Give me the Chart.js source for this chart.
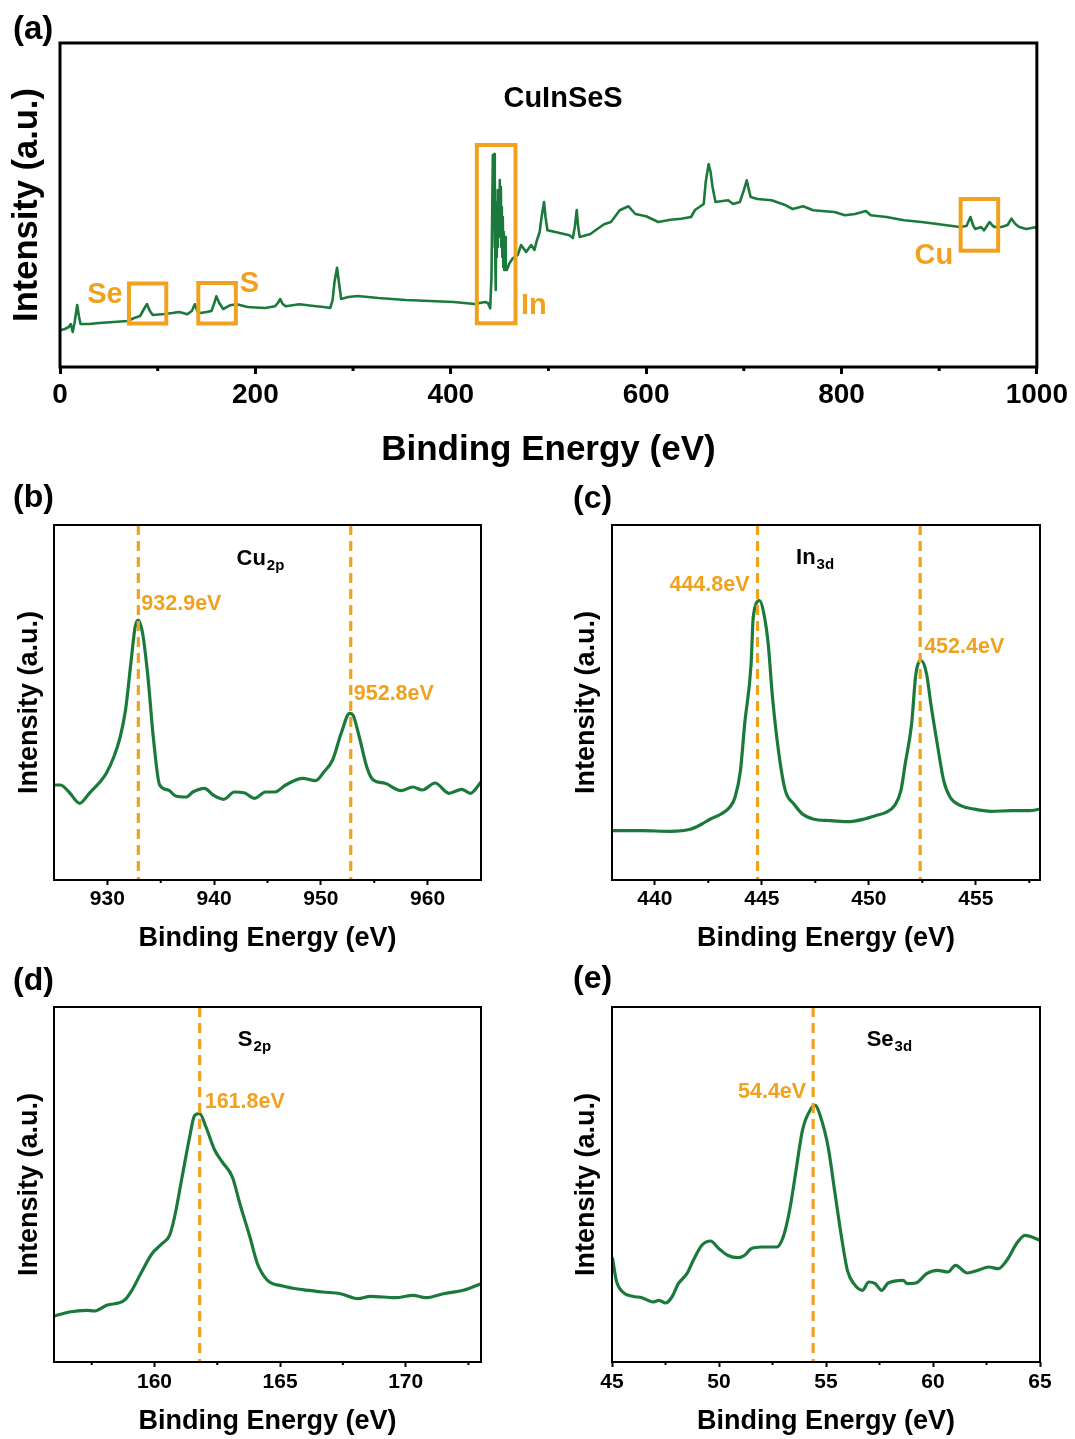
<!DOCTYPE html>
<html>
<head>
<meta charset="utf-8">
<script src="https://cdn.jsdelivr.net/npm/chart.js@4.4.1/dist/chart.umd.min.js"></script>
<style>
  body { margin: 0; background: #fff; width: 1075px; height: 1439px; position: relative; overflow: hidden; }
  canvas { position: absolute; }
</style>
</head>
<body>
<canvas id="pa" width="1075" height="470" style="left:0;top:0"></canvas>
<canvas id="pb" width="537" height="485" style="left:0;top:470px"></canvas>
<canvas id="pc" width="538" height="485" style="left:537px;top:470px"></canvas>
<canvas id="pd" width="537" height="484" style="left:0;top:955px"></canvas>
<canvas id="pe" width="538" height="484" style="left:537px;top:955px"></canvas>
<script>
// ---- data (intensity in arbitrary units) ----
const surveyE = [0, 5, 9, 11, 13, 15, 17.6, 19.5, 21, 30,
  40, 55, 69, 76, 82, 86, 89, 92, 95, 107,
  115, 121.5, 126, 130, 135, 138, 141, 144, 150, 155,
  158, 160, 163, 167, 174, 181, 192, 200, 210, 220,
  223, 225.5, 228, 231, 245, 260, 270, 276.6, 279, 281,
  283.6, 285.5, 287.8, 295, 304.7, 326, 354, 378.7, 403, 424.5,
  435, 438, 440.4, 441.7, 443.1, 443.6, 444.0, 444.5, 444.9, 445.3,
  445.7, 446.1, 446.5, 446.9, 447.3, 447.8, 448.2, 448.7, 449.2, 449.7,
  450.2, 450.7, 451.3, 451.8, 452.3, 452.8, 453.3, 453.8, 454.3, 454.7,
  455.2, 455.7, 456.3, 457.4, 460.1, 463.5, 468.6, 472, 477.2, 482.3,
  485.7, 488, 491, 493, 495.5, 497, 499, 507, 521.5, 525,
  527, 529, 530.5, 532, 543, 550, 557, 564, 573, 582,
  589, 600, 612.5, 625, 635.7, 646, 650, 659, 661, 664,
  666, 668, 671, 684, 689, 696, 700, 703, 705, 707,
  714, 728.5, 743, 750, 760.7, 771, 792.8, 803.5, 814, 825,
  830, 846, 864, 882, 900, 921, 928, 932, 935, 937,
  943, 946, 951.6, 955, 957, 964, 970, 974, 978, 982,
  989, 1000];
const surveyI = [36.7, 38, 40, 43, 35, 45, 62, 50, 43, 43,
  44, 45, 46, 49, 51, 58, 63, 56, 52, 53,
  54, 55, 54, 52.7, 56, 62.7, 55, 54, 55, 56,
  64, 70.7, 64, 58, 61.7, 62.7, 60, 59.5, 59, 60.7,
  64, 68, 63, 60.7, 62.7, 61, 60, 59, 66.7, 85,
  99.3, 85, 68, 70, 71, 69, 67, 66, 65, 63,
  65, 64, 58.7, 90, 212, 140, 205, 213, 120, 190,
  100, 77, 150, 110, 165, 120, 177, 130, 170, 140,
  187, 150, 180, 120, 160, 110, 150, 100, 135, 97,
  125, 130, 100, 97, 103.7, 108.7, 112, 122, 115, 122,
  117, 126, 135, 150, 165, 150, 136.7, 135, 131.7, 129,
  140, 157, 140, 130, 133, 138, 142.7, 145, 156.7, 160.7,
  153, 150.7, 145, 147.3, 148.3, 150, 157, 163, 185, 203,
  195, 180, 165, 166.7, 163, 165, 176.7, 186.7, 178, 170,
  168, 166.7, 161.7, 158, 160.7, 156.7, 155, 151.7, 153, 156,
  151.7, 150, 146.7, 145, 142.7, 140, 141, 150, 141, 138,
  140, 136.7, 145, 141, 140, 140, 142, 148.3, 143, 140,
  138, 140];

const cuE = [925.1, 925.6, 926.4, 927.4, 928.3, 929.3, 929.9, 930.6, 931.2, 931.7,
  932.2, 932.6, 932.9, 933.3, 933.8, 934.3, 934.9, 935.7, 936.4, 937.4,
  938, 939.1, 939.9, 940.9, 941.9, 942.8, 943.8, 944.8, 945.7, 946.7,
  948.3, 949.5, 950.3, 951.1, 951.9, 952.7, 953, 953.6, 954.3, 954.9,
  956, 957.5, 958.6, 959.5, 960.7, 962, 963.2, 964, 965];
const cuI = [95, 95, 88, 76.7, 86.7, 98, 106.7, 123, 143, 170,
  216.7, 253, 260, 246.7, 203, 143, 95, 90, 84, 83,
  88, 91.7, 85, 80.7, 88, 87.3, 81.7, 88, 88, 95,
  101.7, 99.3, 108.3, 120, 146.7, 166.7, 165, 143, 113, 100,
  96.7, 89.3, 93, 90, 97, 86.7, 90.7, 86.7, 98];

const inE = [438, 439.4, 440.7, 441.7, 442.2, 442.6, 443.1, 443.5, 443.75, 444,
  444.2, 444.5, 444.6, 444.9, 445.1, 445.3, 445.5, 445.8, 446.1, 446.5,
  446.9, 447.4, 448.2, 449, 449.8, 450.3, 450.8, 451.2, 451.5, 451.7,
  452, 452.2, 452.45, 452.7, 452.9, 453.2, 453.5, 453.8, 454.3, 454.9,
  455.7, 456.7, 457.5, 458];
const inI = [49.3, 49.3, 48.7, 51, 56, 61, 66, 72.7, 82.7, 109,
  156, 216, 262.7, 279.3, 266, 236, 182.7, 126, 89.3, 76,
  66, 61, 59.3, 58.3, 61, 64.3, 67.7, 74.3, 89.3, 116,
  156, 206, 219.3, 206, 176, 136, 99.3, 82.7, 74.3, 71,
  68.7, 69.3, 69.3, 71];

const sE = [156.03, 156.6, 157.3, 157.6, 158.1, 158.8, 159.1, 159.45, 159.9, 160.3,
  160.6, 160.8, 161.1, 161.4, 161.6, 161.8, 162.05, 162.4, 162.7, 163.1,
  163.4, 163.8, 164.1, 164.5, 165.1, 165.9, 166.7, 167.4, 168.1, 168.6,
  169.6, 170.3, 170.8, 171.5, 172.3, 173];
const sI = [46, 50, 51.7, 51, 56.7, 61.7, 71.7, 88.3, 108.3, 118.3,
  126.7, 145, 185, 225, 246.7, 248.3, 235, 211.7, 200, 185,
  158.3, 125, 98.3, 81.7, 76, 72.3, 70, 68.3, 63.3, 65.7,
  64.3, 66.7, 64.3, 68.3, 71.7, 78.3];

const seE = [45.03, 45.2, 45.5, 45.96, 46.4, 46.9, 47.2, 47.5, 47.8, 48.1,
  48.5, 48.8, 49.2, 49.6, 50, 50.4, 50.9, 51.2, 51.5, 52,
  52.7, 53, 53.3, 53.6, 53.9, 54.3, 54.5, 54.7, 55.1, 55.4,
  55.7, 56, 56.3, 56.7, 57, 57.3, 57.6, 57.9, 58.6, 58.8,
  59.2, 59.7, 60.2, 60.7, 61.05, 61.6, 62.1, 62.6, 63.05, 63.5,
  63.9, 64.3, 65];
const seI = [103.3, 81.7, 70, 65.7, 64.3, 60, 61.7, 59, 65, 78.3,
  88.3, 101.7, 116.7, 121, 113.3, 106.7, 104.3, 106.7, 113.3, 115,
  115, 125, 151.7, 191.7, 231.7, 253.3, 256.7, 248.3, 215, 171.7,
  128.3, 91.7, 78.3, 71.7, 80, 78.3, 71.7, 79, 81.7, 78.3,
  79, 88.3, 91.7, 90, 96.7, 89, 91.7, 95, 93.3, 103.3,
  118.3, 126.7, 121.7];

// peak positions marked with dashed lines
const cuPeaks = [932.9, 952.8];
const inPeaks = [444.8, 452.4];
const sPeaks = [161.8];
const sePeaks = [54.4];

// axis ticks
const surveyTicks = [0, 200, 400, 600, 800, 1000];
const surveyMinor = [100, 300, 500, 700, 900];
const cuTicks = [930, 940, 950, 960];
const cuMinor = [935, 945, 955];
const inTicks = [440, 445, 450, 455];
const inMinor = [442.5, 447.5, 452.5, 457.5];
const sTicks = [160, 165, 170];
const sMinor = [157.5, 162.5, 167.5, 172.5];
const seTicks = [45, 50, 55, 60, 65];
const seMinor = [47.5, 52.5, 57.5, 62.5];

// element regions boxed on the survey (energy range, intensity range)
const surveyBoxes = [
  { x0: 70.6, x1: 108.8, y0: 43.5, y1: 83.5 },
  { x0: 141.6, x1: 180, y0: 43.5, y1: 84 },
  { x0: 426.7, x1: 466.3, y0: 43.7, y1: 222 },
  { x0: 922, x1: 960.4, y0: 116.3, y1: 168 },
];

const GREEN = '#1b7a3b';
const ORANGE = '#f0a21e';
const FONT = '"Liberation Sans", Arial, Helvetica, sans-serif';
const bold = (size) => ({ family: FONT, size, weight: 'bold', lineHeight: 1 });

// frame, minor ticks, boxes, text annotations and panel letter
const decor = {
  id: 'decor',
  afterDatasetsDraw(chart, args, o) {
    const { ctx, chartArea: a } = chart;
    const x = chart.scales.x, y = chart.scales.y;
    ctx.save();
    ctx.strokeStyle = ORANGE;
    ctx.lineWidth = 4;
    (o.boxes || []).forEach((b) => {
      const x0 = x.getPixelForValue(b.x0), x1 = x.getPixelForValue(b.x1);
      const y0 = y.getPixelForValue(b.y0), y1 = y.getPixelForValue(b.y1);
      ctx.strokeRect(x0, y1, x1 - x0, y0 - y1);
    });
    ctx.strokeStyle = '#000';
    ctx.lineWidth = o.frame;
    ctx.strokeRect(a.left, a.top, a.right - a.left, a.bottom - a.top);
    ctx.lineWidth = o.tickW;
    (o.minor || []).forEach((v) => {
      const px = x.getPixelForValue(v);
      ctx.beginPath();
      ctx.moveTo(px, a.bottom);
      ctx.lineTo(px, a.bottom + o.minorLen);
      ctx.stroke();
    });
    ctx.textBaseline = 'middle';
    (o.labels || []).forEach((l) => {
      ctx.fillStyle = l.color;
      ctx.font = `bold ${l.size}px ${FONT}`;
      ctx.textAlign = l.align || 'left';
      const px = x.getPixelForValue(l.x) + (l.dx || 0);
      const py = y.getPixelForValue(l.y);
      ctx.fillText(l.text, px, py);
      if (l.sub) {
        const w = ctx.measureText(l.text).width;
        ctx.font = `bold 15px ${FONT}`;
        ctx.textAlign = 'left';
        ctx.fillText(l.sub, px + w + 1, py + 7);
      }
    });
    ctx.fillStyle = '#000';
    ctx.textAlign = 'left';
    ctx.font = `bold ${o.letterSize}px ${FONT}`;
    ctx.fillText(o.letter, o.letterX, o.letterY);
    ctx.restore();
  },
};

function panel(id, c) {
  const datasets = c.peaks.map((p) => ({
    data: [{ x: p, y: c.ymax }, { x: p, y: 0 }],
    borderColor: ORANGE, borderWidth: 3.2, borderDash: [10, 6], pointRadius: 0, order: 0,
  }));
  datasets.push({
    data: c.xs.map((v, i) => ({ x: v, y: c.ys[i] })),
    borderColor: GREEN, borderWidth: c.lw, pointRadius: 0, order: 1,
    cubicInterpolationMode: c.smooth ? 'monotone' : 'default', tension: 0,
    borderJoinStyle: 'round', borderCapStyle: 'round',
  });
  return new Chart(document.getElementById(id), {
    type: 'line',
    data: { datasets },
    options: {
      responsive: false,
      animation: false,
      devicePixelRatio: 1,
      layout: { padding: c.pad },
      plugins: { legend: { display: false }, tooltip: { enabled: false }, decor: c.decor },
      scales: {
        x: {
          type: 'linear', min: c.xmin, max: c.xmax,
          afterBuildTicks: (s) => { s.ticks = c.ticks.map((v) => ({ value: v })); },
          afterFit: (s) => { s.height = c.xh; },
          ticks: { font: bold(c.tickSize), color: '#000', padding: c.tickPad, maxRotation: 0, autoSkip: false, callback: (v) => String(v) },
          grid: { drawOnChartArea: false, tickLength: c.tickLen, tickColor: '#000', tickWidth: c.decor.tickW },
          border: { display: false },
          title: { display: true, text: 'Binding Energy (eV)', color: '#000', font: bold(c.titleSize), padding: { top: 0, bottom: c.titlePad } },
        },
        y: {
          type: 'linear', min: 0, max: c.ymax,
          afterFit: (s) => { s.width = c.yw; },
          ticks: { display: false },
          grid: { display: false },
          border: { display: false },
          title: { display: true, text: 'Intensity (a.u.)', color: '#000', font: bold(c.ytitleSize), padding: { top: c.ytitlePad, bottom: 0 } },
        },
      },
    },
    plugins: [decor],
  });
}

const small = { tickSize: 21, tickLen: 5, titleSize: 27, ytitleSize: 27, lw: 3.2, ymax: 355, smooth: true };

panel('pa', {
  xs: surveyE, ys: surveyI, peaks: [], xmin: 0, xmax: 1000, ticks: surveyTicks, ymax: 324,
  pad: { left: 0, top: 43, right: 37, bottom: 0 }, yw: 60, xh: 103,
  tickSize: 28, tickLen: 7, tickPad: 7, titleSize: 35, titlePad: 2.5, ytitleSize: 34.5, ytitlePad: 10, lw: 2.6,
  decor: {
    frame: 3, tickW: 3, minor: surveyMinor, minorLen: 4, boxes: surveyBoxes,
    letter: '(a)', letterSize: 33, letterX: 13, letterY: 30,
    labels: [
      { x: 515, y: 268, text: 'CuInSeS', color: '#000', size: 29, align: 'center' },
      { x: 46, y: 72, text: 'Se', color: ORANGE, size: 29, align: 'center' },
      { x: 194, y: 83, text: 'S', color: ORANGE, size: 29, align: 'center' },
      { x: 485, y: 61, text: 'In', color: ORANGE, size: 29, align: 'center' },
      { x: 894.5, y: 111, text: 'Cu', color: ORANGE, size: 29, align: 'center' },
    ],
  },
});

panel('pb', {
  ...small, xs: cuE, ys: cuI, peaks: cuPeaks, xmin: 925, xmax: 965, ticks: cuTicks,
  pad: { left: 0, top: 55, right: 56, bottom: 0 }, yw: 54, xh: 75, tickPad: 4, titlePad: 3, ytitlePad: 16,
  decor: {
    frame: 2, tickW: 2, minor: cuMinor, minorLen: 3,
    letter: '(b)', letterSize: 32, letterX: 13, letterY: 28,
    labels: [
      { x: 932.9, dx: 3, y: 276, text: '932.9eV', color: ORANGE, size: 21.5 },
      { x: 952.8, dx: 3, y: 186, text: '952.8eV', color: ORANGE, size: 21.5 },
      { x: 942.1, y: 321, text: 'Cu', sub: '2p', color: '#000', size: 22 },
    ],
  },
});

panel('pc', {
  ...small, xs: inE, ys: inI, peaks: inPeaks, xmin: 438, xmax: 458, ticks: inTicks,
  pad: { left: 0, top: 55, right: 35, bottom: 0 }, yw: 75, xh: 75, tickPad: 4, titlePad: 3, ytitlePad: 36,
  decor: {
    frame: 2, tickW: 2, minor: inMinor, minorLen: 3,
    letter: '(c)', letterSize: 32, letterX: 36, letterY: 29,
    labels: [
      { x: 444.8, dx: -8, y: 295, text: '444.8eV', color: ORANGE, size: 21.5, align: 'right' },
      { x: 452.4, dx: 4, y: 233, text: '452.4eV', color: ORANGE, size: 21.5 },
      { x: 446.6, y: 322, text: 'In', sub: '3d', color: '#000', size: 22 },
    ],
  },
});

panel('pd', {
  ...small, xs: sE, ys: sI, peaks: sPeaks, xmin: 156, xmax: 173, ticks: sTicks,
  pad: { left: 0, top: 52, right: 56, bottom: 0 }, yw: 54, xh: 77, tickPad: 4.5, titlePad: 4, ytitlePad: 16,
  decor: {
    frame: 2, tickW: 2, minor: sMinor, minorLen: 3,
    letter: '(d)', letterSize: 32, letterX: 13, letterY: 26,
    labels: [
      { x: 161.8, dx: 5, y: 260, text: '161.8eV', color: ORANGE, size: 21.5 },
      { x: 163.32, y: 322, text: 'S', sub: '2p', color: '#000', size: 22 },
    ],
  },
});

panel('pe', {
  ...small, xs: seE, ys: seI, peaks: sePeaks, xmin: 45, xmax: 65, ticks: seTicks,
  pad: { left: 0, top: 52, right: 35, bottom: 0 }, yw: 75, xh: 77, tickPad: 4.5, titlePad: 4, ytitlePad: 36,
  decor: {
    frame: 2, tickW: 2, minor: seMinor, minorLen: 3,
    letter: '(e)', letterSize: 32, letterX: 36, letterY: 24,
    labels: [
      { x: 54.4, dx: -7, y: 270, text: '54.4eV', color: ORANGE, size: 21.5, align: 'right' },
      { x: 56.9, y: 322, text: 'Se', sub: '3d', color: '#000', size: 22 },
    ],
  },
});
</script>
</body>
</html>
